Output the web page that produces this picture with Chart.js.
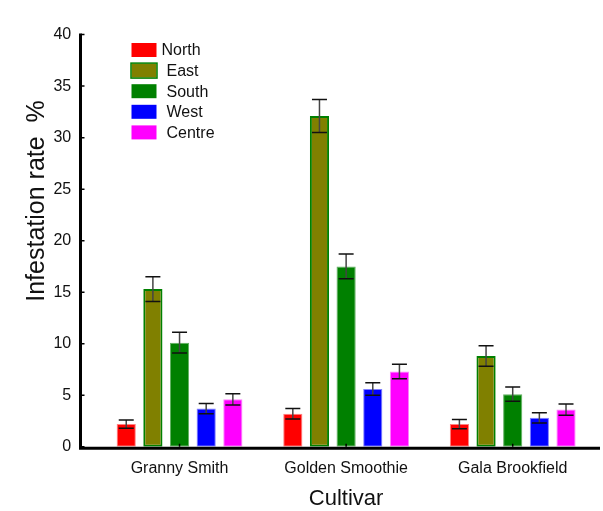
<!DOCTYPE html>
<html>
<head>
<meta charset="utf-8">
<script src="https://cdn.jsdelivr.net/npm/chart.js@4.4.1/dist/chart.umd.min.js"></script>
<style>
  html, body { margin: 0; padding: 0; background: #fff; }
  #wrap { width: 603px; height: 511px; }
</style>
</head>
<body>
<div id="wrap"><canvas id="chart" width="603" height="511"></canvas></div>
<script>
const cultivars = ['Granny Smith', 'Golden Smoothie', 'Gala Brookfield'];
const regions = ['North', 'East', 'South', 'West', 'Centre'];
const yTicks = [0, 5, 10, 15, 20, 25, 30, 35, 40];

const north = [2.2, 3.2, 2.2];
const east = [15.3, 32.1, 8.8];
const south = [10.1, 17.5, 5.1];
const west = [3.7, 5.6, 2.8];
const centre = [4.6, 7.3, 3.6];

const northErr = [0.4, 0.5, 0.45];
const eastErr = [1.2, 1.6, 1.0];
const southErr = [1.0, 1.2, 0.7];
const westErr = [0.5, 0.6, 0.5];
const centreErr = [0.55, 0.7, 0.55];

const fills = ['#ff0000', '#808000', '#008000', '#0000ff', '#ff00ff'];
const edges = ['#ff8080', '#008000', '#60b060', '#8080ff', '#ff80ff'];
const values = [north, east, south, west, centre];
const errors = [northErr, eastErr, southErr, westErr, centreErr];

const FONT = '"Liberation Sans", Arial, sans-serif';

const datasets = regions.map((name, i) => ({
  label: name,
  data: values[i],
  errors: errors[i],
  backgroundColor: fills[i],
  borderColor: edges[i],
  borderWidth: i === 1 ? 2 : 1,
  borderSkipped: false,
  barPercentage: 0.72,
  categoryPercentage: 0.8,
}));

// error bars, drawn from the y scale
const errorBars = {
  id: 'errorBars',
  afterDatasetsDraw(chart) {
    const ctx = chart.ctx;
    const y = chart.scales.y;
    ctx.save();
    chart.data.datasets.forEach((ds, i) => {
      chart.getDatasetMeta(i).data.forEach((bar, j) => {
        const v = ds.data[j], e = ds.errors[j];
        const top = y.getPixelForValue(v + e);
        const bot = y.getPixelForValue(v - e);
        ctx.strokeStyle = '#444';
        ctx.lineWidth = 1.5;
        ctx.beginPath();
        ctx.moveTo(bar.x, top);
        ctx.lineTo(bar.x, bot);
        ctx.stroke();
        ctx.strokeStyle = '#111';
        ctx.beginPath();
        ctx.moveTo(bar.x - 7.5, top);
        ctx.lineTo(bar.x + 7.5, top);
        ctx.moveTo(bar.x - 7.5, bot);
        ctx.lineTo(bar.x + 7.5, bot);
        ctx.stroke();
      });
    });
    ctx.restore();
  },
};

// axis lines, inward ticks, legend and y title
const decor = {
  id: 'decor',
  afterDraw(chart) {
    const ctx = chart.ctx;
    const y = chart.scales.y;
    const x = chart.scales.x;
    const axisX = 80.5;
    const y0 = y.getPixelForValue(0);
    ctx.save();
    ctx.strokeStyle = '#000';
    ctx.lineWidth = 3;
    ctx.beginPath();
    ctx.moveTo(axisX, y.getPixelForValue(40) - 1);
    ctx.lineTo(axisX, y0 + 1.5);
    ctx.lineTo(600, y0 + 1.5);
    ctx.stroke();

    ctx.lineWidth = 1.5;
    ctx.beginPath();
    yTicks.forEach(t => {
      const py = y.getPixelForValue(t);
      ctx.moveTo(axisX, py);
      ctx.lineTo(axisX + 4, py);
    });
    cultivars.forEach((c, i) => {
      const px = x.getPixelForValue(i);
      ctx.moveTo(px, y0);
      ctx.lineTo(px, y0 - 3);
    });
    ctx.stroke();

    // legend
    ctx.font = '16px ' + FONT;
    ctx.textBaseline = 'middle';
    ctx.textAlign = 'left';
    chart.data.datasets.forEach((ds, i) => {
      const cy = 50 + i * 20.6;
      ctx.fillStyle = ds.backgroundColor;
      ctx.fillRect(131.5, cy - 7, 25, 14);
      if (i === 1) {
        ctx.strokeStyle = '#008000';
        ctx.lineWidth = 1.5;
        ctx.strokeRect(131, cy - 7.5, 26, 15);
      }
      ctx.fillStyle = '#111';
      ctx.fillText(ds.label, i === 0 ? 161.5 : 166.5, cy + 1);
    });

    // y title
    ctx.translate(43.5, 201);
    ctx.rotate(-Math.PI / 2);
    ctx.font = '25px ' + FONT;
    ctx.textAlign = 'center';
    ctx.textBaseline = 'alphabetic';
    ctx.fillStyle = '#111';
    ctx.fillText('Infestation rate  %', 0, 0);
    ctx.restore();
  },
};

const chartConfig = {
  type: 'bar',
  data: { labels: cultivars, datasets },
  options: {
    responsive: false,
    animation: false,
    layout: { padding: { top: 22.7, right: 7, left: 0, bottom: 0 } },
    plugins: {
      legend: { display: false },
      tooltip: { enabled: false },
    },
    scales: {
      x: {
        grid: { display: false, drawTicks: false },
        border: { display: false },
        ticks: { color: '#111', font: { family: FONT, size: 16 }, padding: 12 },
        title: {
          display: true,
          text: 'Cultivar',
          color: '#111',
          font: { family: FONT, size: 22 },
          padding: { top: 0, bottom: -1 },
        },
        afterFit: (scale) => { scale.height = 64.3; },
      },
      y: {
        min: 0,
        max: 40,
        grid: { display: false, drawTicks: false },
        border: { display: false },
        ticks: { color: '#111', font: { family: FONT, size: 16 }, padding: 25 },
        afterBuildTicks: (scale) => { scale.ticks = yTicks.map(v => ({ value: v })); },
        afterFit: (scale) => { scale.width = 96.25; },
      },
    },
  },
  plugins: [errorBars, decor],
};

const chart = new Chart(document.getElementById('chart'), chartConfig);
</script>
</body>
</html>
